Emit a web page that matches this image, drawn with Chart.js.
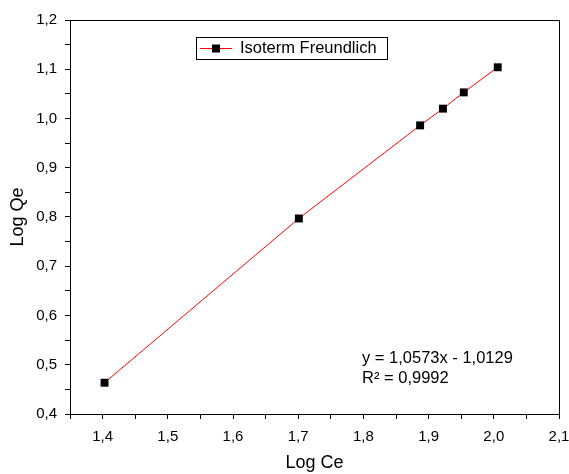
<!DOCTYPE html>
<html>
<head>
<meta charset="utf-8">
<script src="https://cdn.jsdelivr.net/npm/chart.js@4"></script>
<style>
  html, body { margin: 0; padding: 0; background: #fff; }
  #wrap { width: 569px; height: 474px; }
</style>
</head>
<body>
<div id="wrap"><canvas id="myChart"></canvas></div>
<script>
// data
var logCe = [1.403, 1.701, 1.887, 1.922, 1.954, 2.006];
var logQe = [0.4635, 0.797, 0.986, 1.020, 1.053, 1.104];
var seriesName = 'Isoterm Freundlich';
var fitText = ['y = 1,0573x - 1,0129', 'R\u00b2 = 0,9992'];

// ticks (minor ticks every 0.05, labels only on the 0.1 ones)
var xTicks = [1.35, 1.4, 1.45, 1.5, 1.55, 1.6, 1.65, 1.7, 1.75, 1.8, 1.85, 1.9, 1.95, 2.0, 2.05, 2.1];
var yTicks = [0.4, 0.45, 0.5, 0.55, 0.6, 0.65, 0.7, 0.75, 0.8, 0.85, 0.9, 0.95, 1.0, 1.05, 1.1, 1.15, 1.2];

var FONT = "'Liberation Sans', Arial, sans-serif";

function isMajor(v) {
    return Math.abs(Math.round(v * 10) - v * 10) < 1e-6;
}
function fmt(v) {
    return isMajor(v) ? v.toFixed(1).replace('.', ',') : '';
}

var points = logCe.map(function (x, i) { return { x: x, y: logQe[i] }; });

// frame, legend box and fit text
var extras = {
    id: 'extras',
    afterDraw: function (chart) {
        var ctx = chart.ctx;
        var a = chart.chartArea;
        ctx.save();
        ctx.strokeStyle = '#000';
        ctx.lineWidth = 1;
        ctx.beginPath();
        ctx.moveTo(a.left, a.top + 0.5);
        ctx.lineTo(a.right + 0.5, a.top + 0.5);
        ctx.lineTo(a.right + 0.5, a.bottom);
        ctx.stroke();

        // legend
        var lx = 196, ly = 37, lw = 191, lh = 22;
        ctx.strokeRect(lx + 0.5, ly + 0.5, lw, lh);
        var cy = ly + lh / 2 + 0.5;
        ctx.strokeStyle = '#ff0000';
        ctx.beginPath();
        ctx.moveTo(lx + 4, cy);
        ctx.lineTo(lx + 36, cy);
        ctx.stroke();
        ctx.fillStyle = '#000';
        ctx.fillRect(lx + 16, cy - 4, 8, 8);
        ctx.font = '16.5px ' + FONT;
        ctx.textBaseline = 'middle';
        ctx.textAlign = 'left';
        ctx.fillText(seriesName, lx + 44, cy);

        // fit text
        ctx.fillText(fitText[0], 362, 358);
        ctx.fillText(fitText[1], 362, 378);
        ctx.restore();
    }
};

var ctx = document.getElementById('myChart').getContext('2d');
var chart = new Chart(ctx, {
    type: 'scatter',
    data: {
        datasets: [{
            label: seriesName,
            data: points,
            showLine: true,
            borderColor: '#ff0000',
            borderWidth: 1,
            pointStyle: 'rect',
            pointRadius: 5.6,
            pointBackgroundColor: '#000',
            pointBorderColor: '#000',
            pointBorderWidth: 0
        }]
    },
    options: {
        responsive: true,
        maintainAspectRatio: false,
        animation: false,
        layout: { padding: { top: 20, right: 0, left: 0, bottom: 0 } },
        plugins: {
            legend: { display: false },
            tooltip: { enabled: false }
        },
        scales: {
            x: {
                type: 'linear',
                min: 1.35,
                max: 2.1,
                afterBuildTicks: function (s) { s.ticks = xTicks.map(function (v) { return { value: v }; }); },
                afterFit: function (s) { s.height = 60; s.paddingRight = 10; s.paddingLeft = 0; },
                border: { color: '#000', width: 1 },
                grid: { drawOnChartArea: false, color: '#000', tickLength: 5 },
                ticks: {
                    autoSkip: false,
                    maxRotation: 0,
                    padding: 9,
                    color: '#000',
                    font: { family: FONT, size: 15 },
                    callback: function (v) { return fmt(v); }
                },
                title: {
                    display: true,
                    text: 'Log Ce',
                    color: '#000',
                    font: { family: FONT, size: 18 },
                    padding: { top: 8, bottom: 0 }
                }
            },
            y: {
                type: 'linear',
                min: 0.4,
                max: 1.2,
                afterBuildTicks: function (s) { s.ticks = yTicks.map(function (v) { return { value: v }; }); },
                afterFit: function (s) { s.width = 70; },
                border: { color: '#000', width: 1 },
                grid: { drawOnChartArea: false, color: '#000', tickLength: 5 },
                ticks: {
                    autoSkip: false,
                    padding: 8,
                    color: '#000',
                    font: { family: FONT, size: 15 },
                    callback: function (v) { return fmt(v); }
                },
                title: {
                    display: true,
                    text: 'Log Qe',
                    color: '#000',
                    font: { family: FONT, size: 18 },
                    padding: { top: 7, bottom: 0 }
                }
            }
        }
    },
    plugins: [extras]
});
</script>
</body>
</html>
